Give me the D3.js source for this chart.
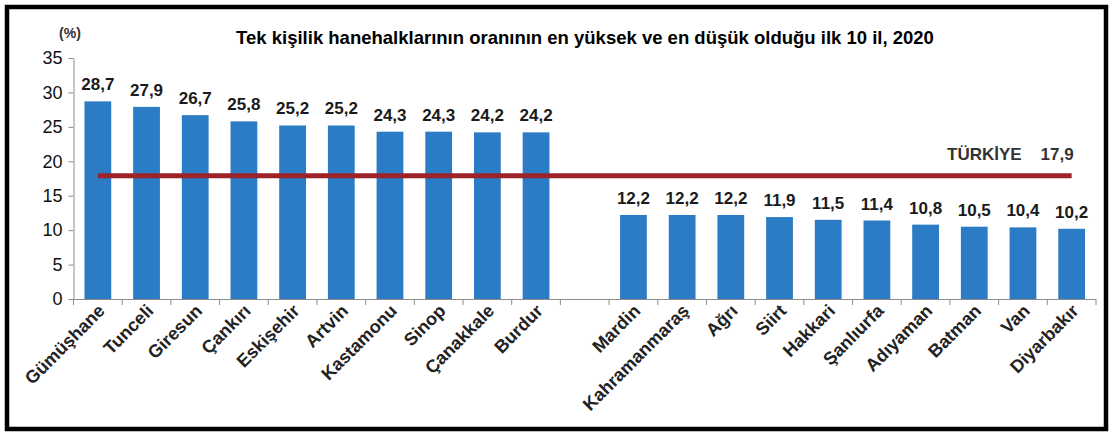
<!DOCTYPE html>
<html>
<head>
<meta charset="utf-8">
<script src="https://cdn.jsdelivr.net/npm/d3@7"></script>
<style>
  body { margin: 0; background: #fff; }
  svg { display: block; font-family: "Liberation Sans", Arial, sans-serif; }
</style>
</head>
<body>
<script>
// top and bottom 10 provinces, one-person household share (%)
var topNames = ["Gümüşhane", "Tunceli", "Giresun", "Çankırı", "Eskişehir", "Artvin", "Kastamonu", "Sinop", "Çanakkale", "Burdur"];
var topValues = [28.7, 27.9, 26.7, 25.8, 25.2, 25.2, 24.3, 24.3, 24.2, 24.2];
var bottomNames = ["Mardin", "Kahramanmaraş", "Ağrı", "Siirt", "Hakkari", "Şanlıurfa", "Adıyaman", "Batman", "Van", "Diyarbakır"];
var bottomValues = [12.2, 12.2, 12.2, 11.9, 11.5, 11.4, 10.8, 10.5, 10.4, 10.2];
var turkiye = 17.9;
var yTicks = [0, 5, 10, 15, 20, 25, 30, 35];

var rows = [];
topNames.forEach(function (n, i) { rows.push({ name: n, value: topValues[i] }); });
var bottomRows = bottomNames.map(function (n, i) { return { name: n, value: bottomValues[i] }; });
var keys = topNames.concat(["__gap"], bottomNames);
rows = rows.concat(bottomRows);

var fmt = function (v) { return d3.format(".1f")(v).replace(".", ","); };

var svg = d3.select("body").append("svg")
    .attr("width", 1117)
    .attr("height", 441);

// frame
svg.append("rect")
    .attr("x", 7).attr("y", 7)
    .attr("width", 1099).attr("height", 422)
    .attr("fill", "none")
    .attr("stroke", "#000")
    .attr("stroke-width", 4.5);

var x = d3.scaleBand()
    .domain(keys)
    .range([73.5, 1096])
    .paddingInner(0.45)
    .paddingOuter(0.225);

var y = d3.scaleLinear()
    .domain([0, 35])
    .range([299, 58]);

// y axis
var yAxis = svg.append("g")
    .attr("transform", "translate(73.5,0)")
    .call(d3.axisLeft(y).tickValues(yTicks).tickSize(5).tickSizeOuter(0));
yAxis.select(".domain").attr("stroke", "#8c8c8c");
yAxis.selectAll(".tick line").attr("stroke", "#8c8c8c");
yAxis.selectAll(".tick text")
    .attr("x", -11)
    .attr("font-size", "18px")
    .attr("font-family", "Liberation Sans, Arial, sans-serif")
    .attr("fill", "#111");

svg.append("text")
    .attr("x", 70).attr("y", 38)
    .attr("text-anchor", "middle")
    .attr("font-size", "14px")
    .attr("font-weight", "bold")
    .attr("fill", "#333")
    .text("(%)");

// bars
svg.selectAll("rect.bar")
    .data(rows)
    .enter()
    .append("rect")
    .attr("class", "bar")
    .attr("x", function (d) { return x(d.name); })
    .attr("y", function (d) { return y(d.value); })
    .attr("width", x.bandwidth())
    .attr("height", function (d) { return y(0) - y(d.value); })
    .attr("fill", "#2b7cc4");

// x axis line + category boundary ticks
var step = x.step();
var x0 = x.range()[0];
svg.append("line")
    .attr("x1", x0).attr("x2", x.range()[1])
    .attr("y1", y(0) + 0.5).attr("y2", y(0) + 0.5)
    .attr("stroke", "#8c8c8c");
svg.selectAll("line.xtick")
    .data(d3.range(keys.length + 1))
    .enter()
    .append("line")
    .attr("class", "xtick")
    .attr("x1", function (i) { return x0 + i * step; })
    .attr("x2", function (i) { return x0 + i * step; })
    .attr("y1", y(0)).attr("y2", y(0) + 6)
    .attr("stroke", "#8c8c8c");

// value labels
svg.selectAll("text.val")
    .data(rows)
    .enter()
    .append("text")
    .attr("class", "val")
    .attr("x", function (d) { return x(d.name) + x.bandwidth() / 2; })
    .attr("y", function (d) { return y(d.value) - 11; })
    .attr("text-anchor", "middle")
    .attr("font-size", "17px")
    .attr("font-weight", "bold")
    .attr("fill", "#1a1a1a")
    .text(function (d) { return fmt(d.value); });

// category labels
svg.selectAll("text.cat")
    .data(rows)
    .enter()
    .append("text")
    .attr("class", "cat")
    .attr("transform", function (d) {
        return "translate(" + (x(d.name) + x.bandwidth() / 2 + 8) + "," + (y(0) + 13) + ") rotate(-45)";
    })
    .attr("text-anchor", "end")
    .attr("font-size", "18px")
    .attr("font-weight", "bold")
    .attr("fill", "#222")
    .text(function (d) { return d.name; });

// Türkiye average line
var first = x(keys[0]) + x.bandwidth() / 2;
var last = x(keys[keys.length - 1]) + x.bandwidth() / 2;
svg.append("line")
    .attr("x1", first).attr("x2", last)
    .attr("y1", y(turkiye)).attr("y2", y(turkiye))
    .attr("stroke", "#9c2327")
    .attr("stroke-width", 5);

svg.append("text")
    .attr("x", last + 2).attr("y", y(turkiye) - 16)
    .attr("text-anchor", "end")
    .attr("font-size", "17px")
    .attr("font-weight", "bold")
    .attr("fill", "#333")
    .text(fmt(turkiye));
svg.append("text")
    .attr("x", last - 50).attr("y", y(turkiye) - 16)
    .attr("text-anchor", "end")
    .attr("font-size", "17px")
    .attr("font-weight", "bold")
    .attr("fill", "#333")
    .text("TÜRKİYE");

// title
svg.append("text")
    .attr("x", 585).attr("y", 44)
    .attr("text-anchor", "middle")
    .attr("font-size", "18.5px")
    .attr("font-weight", "bold")
    .attr("fill", "#000")
    .text("Tek kişilik hanehalklarının oranının en yüksek ve en düşük olduğu ilk 10 il, 2020");
</script>
</body>
</html>
